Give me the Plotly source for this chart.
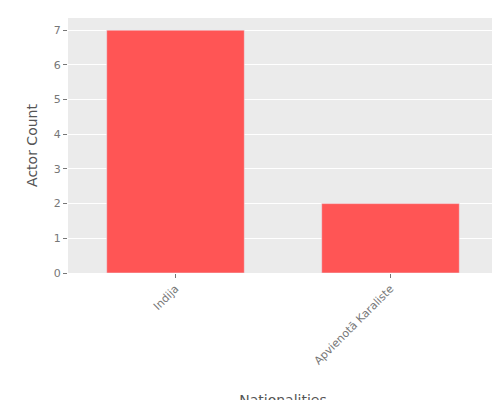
import plotly.graph_objects as go

categories = ["Indija", "Apvienotā Karaliste"]
counts = [7, 2]

fig = go.Figure(go.Bar(x=categories, y=counts, marker_color="#FF5555", width=0.64))
fig.update_layout(
    width=500, height=400,
    margin=dict(l=60, r=10, t=10, b=135),
    paper_bgcolor="white", plot_bgcolor="#EBEBEB",
    font=dict(family="DejaVu Sans", color="#777777", size=11),
    showlegend=False,
)
fig.update_xaxes(title=dict(text="Nationalities", font=dict(size=14, color="#555555"), standoff=40),
                 tickangle=-45, automargin=False,
                 ticks="outside", tickcolor="#777777", ticklen=4, showgrid=False,
                 range=[-0.5, 1.5])
fig.update_yaxes(title=dict(text="Actor Count", font=dict(size=14, color="#555555"), standoff=12),
                 range=[0, 7.35], automargin=False,
                 dtick=1, gridcolor="white", ticks="outside", tickcolor="#777777",
                 ticklen=4, zeroline=False)
fig.write_html("out.html")
